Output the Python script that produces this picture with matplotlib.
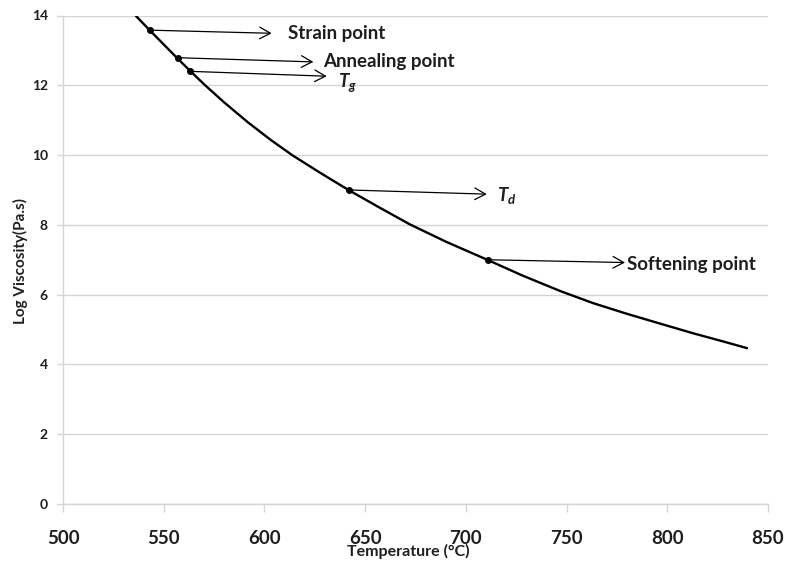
import matplotlib
matplotlib.use('Agg')
import matplotlib.pyplot as plt

# viscosity curve, log10(eta / Pa.s) vs temperature
temp = [536, 543, 550, 557, 563, 570, 580, 592, 603, 614, 628, 642,
        657, 672, 690, 711, 728, 747, 763, 780, 797, 813, 827, 840]
log_visc = [14.0, 13.58, 13.17, 12.76, 12.42, 12.03, 11.51, 10.93, 10.44, 9.99, 9.48, 8.99,
            8.50, 8.02, 7.52, 6.99, 6.55, 6.10, 5.76, 5.45, 5.16, 4.89, 4.67, 4.46]

# fixed points on the curve
pt_names = ['Strain point', 'Annealing point', r'$T_g$', r'$T_d$', 'Softening point']
pt_temp = [543, 557, 563, 642, 711]
pt_visc = [13.58, 12.79, 12.40, 9.0, 7.0]

# arrow tips and label anchors (data coords)
tips = [(603.6, 13.49), (624.3, 12.67), (630.9, 12.26), (710.4, 8.88), (779.0, 6.92)]
lab_pos = [(611.7, 13.32), (629.2, 12.53), (636.7, 11.94), (715.3, 8.69), (780.2, 6.72)]

plt.rcParams['font.family'] = ['Lato', 'DejaVu Sans']
plt.rcParams['font.weight'] = 'bold'
plt.rcParams['mathtext.fontset'] = 'custom'
plt.rcParams['mathtext.it'] = 'Lato:italic:bold'
plt.rcParams['mathtext.rm'] = 'Lato:bold'

TXT = '#1e1e1e'
GRID = '#d4d4d4'

fig = plt.figure(figsize=(7.87, 5.64), dpi=100)
ax = fig.add_axes([63 / 787, 60 / 564, 705 / 787, 488.5 / 564])

ax.plot(temp, log_visc, color='black', lw=1.7, solid_capstyle='butt',
        solid_joinstyle='round', zorder=3)
ax.plot(pt_temp, pt_visc, 'o', color='black', ms=4, zorder=4)

for name, x, y, tip, lp in zip(pt_names, pt_temp, pt_visc, tips, lab_pos):
    ax.annotate('', xy=tip, xytext=(x, y),
                arrowprops=dict(arrowstyle='->,head_length=0.55,head_width=0.3',
                                color='black', lw=0.9, shrinkA=0, shrinkB=0,
                                mutation_scale=14), zorder=5)
    ax.text(lp[0], lp[1], name, fontsize=13.5, fontweight='bold', color=TXT,
            ha='left', va='baseline')

ax.set_xlim(500, 850)
ax.set_ylim(0, 14)
ax.set_xticks(range(500, 851, 50))
ax.set_yticks(range(0, 15, 2))
ax.yaxis.grid(True, color=GRID, lw=1.0, zorder=0)
ax.set_axisbelow(True)

for s in ['top', 'right']:
    ax.spines[s].set_visible(False)
for s in ['left', 'bottom']:
    ax.spines[s].set_color(GRID)
    ax.spines[s].set_linewidth(1.0)

ax.tick_params(axis='x', length=6, width=1.0, color=GRID, pad=13,
               labelsize=13.5, labelcolor=TXT)
ax.tick_params(axis='y', length=4, width=1.0, color=GRID, pad=7,
               labelsize=10, labelcolor=TXT)
for lb in ax.get_xticklabels() + ax.get_yticklabels():
    lb.set_fontweight('bold')

ax.set_xlabel('Temperature (°C)', fontsize=11.5, fontweight='bold', color=TXT)
ax.xaxis.set_label_coords(0.49, -0.098)
ax.xaxis.label.set_va('center')
ax.set_ylabel('Log Viscosity(Pa.s)', fontsize=11, fontweight='bold', color=TXT)
ax.yaxis.set_label_coords(-0.061, 0.497)
ax.yaxis.label.set_va('center')

fig.savefig('out.png', dpi=100)
